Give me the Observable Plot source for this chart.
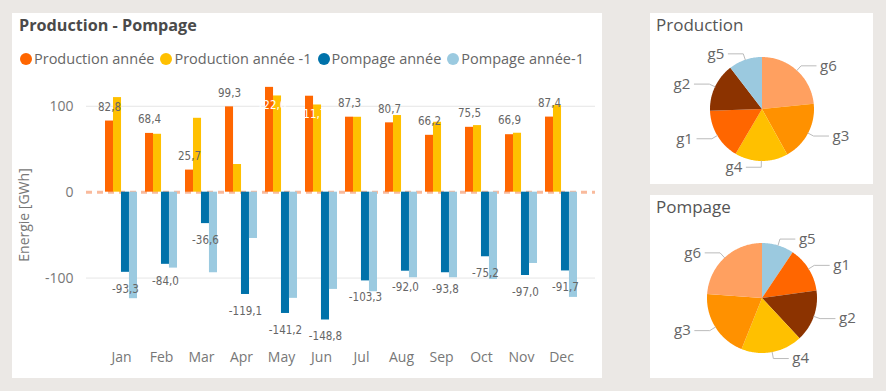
<!DOCTYPE html>
<html>
<head>
<meta charset="utf-8">
<script src="https://cdn.jsdelivr.net/npm/d3@7"></script>
<script src="https://cdn.jsdelivr.net/npm/@observablehq/plot@0.6"></script>
<style>
  html, body { margin: 0; padding: 0; background: #EBE8E5; }
  #root { position: relative; width: 886px; height: 391px; overflow: hidden; font-family: "Open Sans", "Noto Sans", sans-serif; }
  .panel { position: absolute; background: #fff; }
  .title { position: absolute; left: 7px; top: 1px; font-size: 16.2px; font-weight: 700; color: #4a4a4a; line-height: 22px; white-space: nowrap; }
  .ptitle { position: absolute; left: 6px; top: 0px; font-size: 17px; color: #555; line-height: 24px; white-space: nowrap; }
  #legend { position: absolute; left: 8px; top: 36px; display: flex; gap: 6px; font-size: 14.5px; color: #666; white-space: nowrap; line-height: 20px; }
  #legend .item { display: flex; align-items: center; }
  #legend .dot { width: 12px; height: 12px; border-radius: 50%; margin-right: 2px; }
  #ylabel { position: absolute; left: 11px; top: 202px; transform: translate(-50%, -50%) rotate(-90deg); font-size: 14px; color: #777; white-space: nowrap; }
  svg { overflow: visible; }
</style>
</head>
<body>
<div id="root">
  <div class="panel" id="main" style="left:12px;top:13px;width:590px;height:365px">
    <div class="title">Production - Pompage</div>
    <div id="legend"></div>
    <div id="ylabel">Energie [GWh]</div>
    <div id="bars" style="position:absolute;left:0;top:57px"></div>
  </div>
  <div class="panel" id="pprod" style="left:650px;top:13px;width:223px;height:171px">
    <div class="ptitle">Production</div>
    <div id="pie1" style="position:absolute;left:0;top:0"></div>
  </div>
  <div class="panel" id="ppomp" style="left:650px;top:195px;width:223px;height:183px">
    <div class="ptitle">Pompage</div>
    <div id="pie2" style="position:absolute;left:0;top:0"></div>
  </div>
</div>
<script>
// ---------- Data ----------
const months = ["Jan","Feb","Mar","Apr","May","Jun","Jul","Aug","Sep","Oct","Nov","Dec"];
const prodYear = [82.8, 68.4, 25.7, 99.3, 122.0, 111.7, 87.3, 80.7, 66.2, 75.5, 66.9, 87.4];
const prodPrev = [110.1, 67.4, 86.0, 32.2, 112.0, 101.5, 87.2, 89.2, 81.4, 77.5, 68.6, 100.8];
const pompYear = [-93.3, -84.0, -36.6, -119.1, -141.2, -148.8, -103.3, -92.0, -93.8, -75.2, -97.0, -91.7];
const pompPrev = [-124.0, -88.4, -93.8, -53.9, -123.6, -113.2, -115.9, -99.6, -99.6, -101.6, -83.0, -122.5];
const seriesNames = ["Production année", "Production année -1", "Pompage année", "Pompage année-1"];
const seriesColors = ["#FF6600", "#FFC000", "#0072AA", "#9BCAE0"];
const yTicks = [-100, 0, 100];

const groupKeys = ["g1", "g2", "g3", "g4", "g5", "g6"];
const groupColors = ["#FF6600", "#8C3300", "#FF9100", "#FFC000", "#9BC9DF", "#FFA060"];
const prodPieKeys = ["g6", "g3", "g4", "g1", "g2", "g5"];
const prodPieValues = [23.4, 18.5, 16.5, 16.0, 15.1, 10.4];
const pompPieKeys = ["g5", "g1", "g2", "g4", "g3", "g6"];
const pompPieValues = [9.4, 13.4, 15.2, 18.0, 20.1, 23.8];

// ---------- Legend ----------
const legend = document.getElementById("legend");
seriesNames.forEach((name, i) => {
  const item = document.createElement("div");
  item.className = "item";
  const dot = document.createElement("div");
  dot.className = "dot";
  dot.style.background = seriesColors[i];
  const t = document.createElement("span");
  t.textContent = name;
  item.appendChild(dot); item.appendChild(t);
  legend.appendChild(item);
});

// ---------- Bar chart ----------
const seriesArrays = [prodYear, prodPrev, pompYear, pompPrev];
const rows = [];
months.forEach((m, i) => seriesArrays.forEach((arr, k) => rows.push({month: m, k, value: arr[i]})));

const W = 590, H = 302, mL = 74, mR = 7, mT = 10, mB = 30;
const pIn = 0.21, pOut = 0.4;
const step = (W - mL - mR) / (months.length - pIn + 2 * pOut);
const sub = step * (1 - pIn) / 4;
const fmt = v => v.toFixed(1).replace(".", ",");
const labelFont = "'DejaVu Sans Condensed', 'Liberation Sans Narrow', Roboto, sans-serif";

const prodRows = rows.filter(d => d.k === 0);
const pompRows = rows.filter(d => d.k === 2);

const bars = Plot.plot({
  width: W, height: H,
  marginLeft: mL, marginRight: mR, marginTop: mT, marginBottom: mB,
  style: {background: "transparent", fontFamily: "'Open Sans', sans-serif", fontSize: "14px", color: "#777", overflow: "visible"},
  x: {domain: months, paddingInner: pIn, paddingOuter: pOut, tickSize: 0, tickPadding: 10, label: null},
  y: {domain: [-175, 130], ticks: yTicks, tickFormat: d => String(d), tickSize: 0, tickPadding: 13, label: null},
  marks: [
    Plot.ruleY(yTicks.filter(t => t !== 0), {stroke: "#E6E6E6", strokeWidth: 1}),
    Plot.ruleY([0], {stroke: "#F9BA9C", strokeWidth: 3, strokeDasharray: "6,5"}),
    ...seriesColors.map((c, k) => Plot.barY(rows.filter(d => d.k === k), {
      x: "month", y: "value", fill: c, insetLeft: k * sub, insetRight: (3 - k) * sub
    })),
    Plot.text(prodRows.filter(d => d.value <= 105), {
      x: "month", y: "value", text: d => fmt(d.value), dx: -1.5 * sub, dy: -14,
      fill: "#666", fontSize: 11.5, fontFamily: labelFont
    }),
    Plot.text(prodRows.filter(d => d.value > 105), {
      x: "month", y: "value", text: d => fmt(d.value), dx: -1.5 * sub + 2, dy: 18,
      fill: "#fff", fontSize: 11.5, fontFamily: labelFont
    }),
    Plot.text(pompRows, {
      x: "month", y: "value", text: d => fmt(d.value), dx: 0.5 * sub, dy: 16.5,
      fill: "#666", fontSize: 11.5, fontFamily: labelFont
    })
  ]
});
document.getElementById("bars").appendChild(bars);

// ---------- Pies ----------
function piePlot(keys, values, width, height, cx, cy, r) {
  const arcs = d3.pie().sort(null)(values);
  const poly = [];
  const leaders = [];
  const labels = [];
  const ext = 15 / r;
  arcs.forEach((a, i) => {
    const key = keys[i];
    poly.push({key, x: 0, y: 0});
    const n = Math.max(2, Math.ceil((a.endAngle - a.startAngle) / (Math.PI / 180)));
    for (let j = 0; j <= n; j++) {
      const t = a.startAngle + (a.endAngle - a.startAngle) * j / n;
      poly.push({key, x: Math.sin(t), y: Math.cos(t)});
    }
    const m = (a.startAngle + a.endAngle) / 2;
    const side = Math.sin(m) >= 0 ? 1 : -1;
    const ex = 1.12 * Math.sin(m), ey = 1.12 * Math.cos(m);
    leaders.push({key, x: Math.sin(m), y: Math.cos(m)});
    leaders.push({key, x: ex, y: ey});
    leaders.push({key, x: ex + side * ext, y: ey});
    labels.push({key, side, x: ex + side * (ext + 4 / r), y: ey});
  });
  return Plot.plot({
    width, height,
    marginLeft: cx - r, marginRight: width - cx - r, marginTop: cy - r, marginBottom: height - cy - r,
    style: {background: "transparent", overflow: "visible"},
    x: {domain: [-1, 1], axis: null},
    y: {domain: [-1, 1], axis: null},
    color: {domain: groupKeys, range: groupColors},
    marks: [
      Plot.line(poly, {x: "x", y: "y", z: "key", fill: "key", stroke: "none"}),
      Plot.line(leaders, {x: "x", y: "y", z: "key", stroke: "#BBBBBB", strokeWidth: 1}),
      Plot.text(labels.filter(d => d.side > 0), {x: "x", y: "y", text: "key", textAnchor: "start", fill: "#666", fontSize: 15, fontFamily: "'Open Sans', sans-serif"}),
      Plot.text(labels.filter(d => d.side < 0), {x: "x", y: "y", text: "key", textAnchor: "end", fill: "#666", fontSize: 15, fontFamily: "'Open Sans', sans-serif"})
    ]
  });
}
document.getElementById("pie1").appendChild(piePlot(prodPieKeys, prodPieValues, 223, 171, 111.5, 95.5, 52));
document.getElementById("pie2").appendChild(piePlot(pompPieKeys, pompPieValues, 223, 183, 111.5, 102.5, 55));
</script>
</body>
</html>
